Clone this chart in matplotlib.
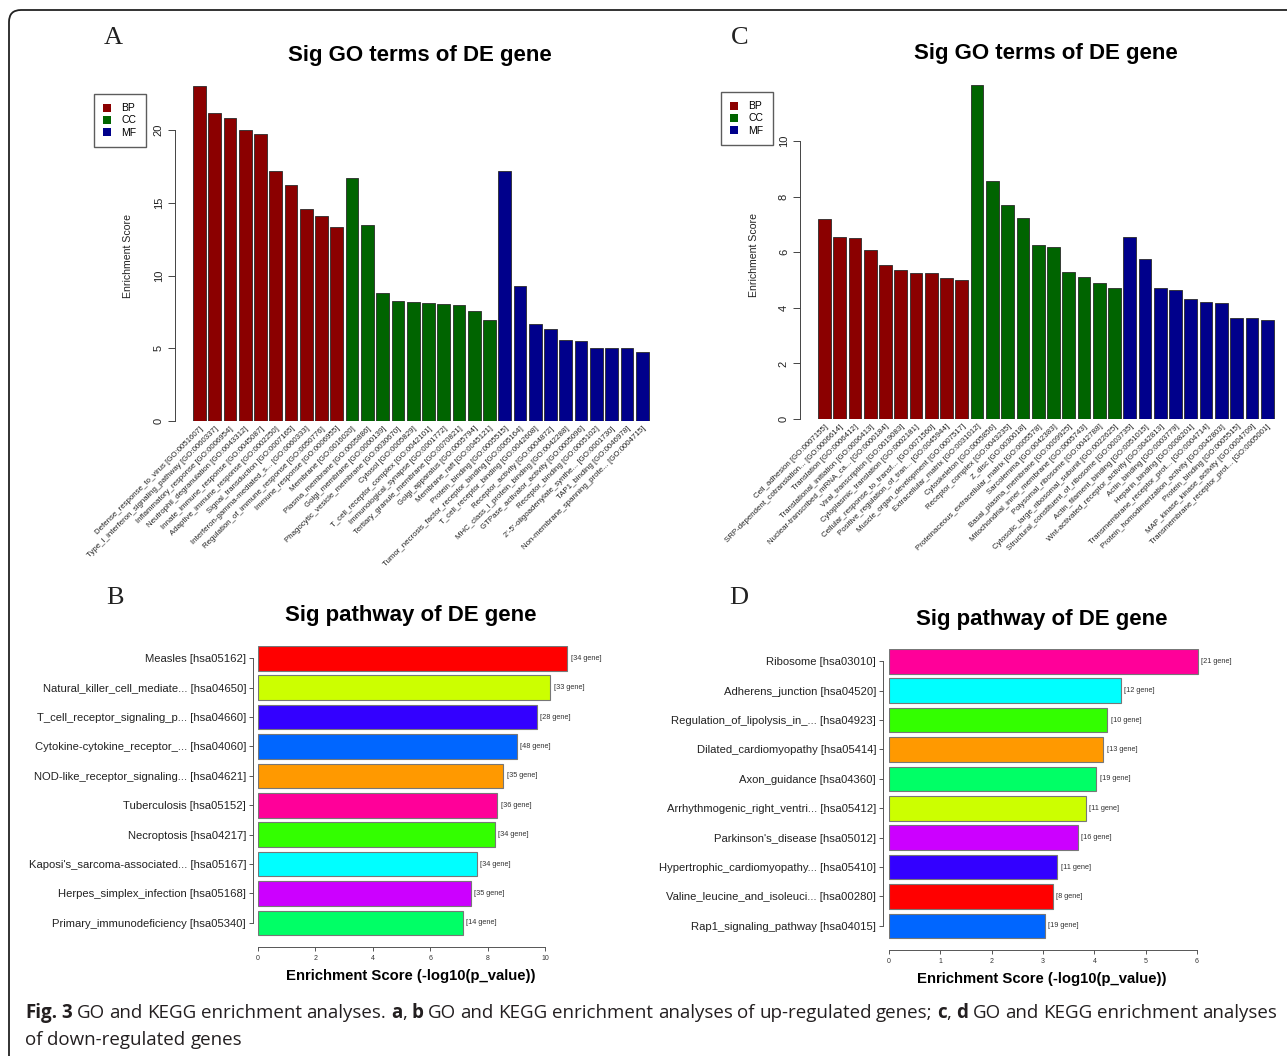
import re
import numpy as np
import matplotlib
matplotlib.use('Agg')
import matplotlib.pyplot as plt
from matplotlib.patches import Patch, FancyBboxPatch
from matplotlib.transforms import IdentityTransform

W, H = 1287, 1056

##########
## DATA ##
##########

go_classes = ['BP', 'CC', 'MF']
go_colors = {'BP': '#8B0000', 'CC': '#006400', 'MF': '#00008B'}

# A : GO terms of up-regulated genes
goA_terms = [
    'Defense_response_to_virus [GO:0051607]',
    'Type_I_interferon_signaling_pathway [GO:0060337]',
    'Inflammatory_response [GO:0006954]',
    'Neutrophil_degranulation [GO:0043312]',
    'Innate_immune_response [GO:0045087]',
    'Adaptive_immune_response [GO:0002250]',
    'Signal_transduction [GO:0007165]',
    'Interferon-gamma-mediated_s... [GO:0060333]',
    'Regulation_of_immune_response [GO:0050776]',
    'Immune_response [GO:0006955]',
    'Membrane [GO:0016020]',
    'Plasma_membrane [GO:0005886]',
    'Golgi_membrane [GO:0000139]',
    'Phagocytic_vesicle_membrane [GO:0030670]',
    'Cytosol [GO:0005829]',
    'T_cell_receptor_complex [GO:0042101]',
    'Immunological_synapse [GO:0001772]',
    'Tertiary_granule_membrane [GO:0070821]',
    'Golgi_apparatus [GO:0005794]',
    'Membrane_raft [GO:0045121]',
    'Protein_binding [GO:0005515]',
    'Tumor_necrosis_factor_receptor_binding [GO:0005164]',
    'T_cell_receptor_binding [GO:0042608]',
    'Receptor_activity [GO:0004872]',
    'MHC_class_I_protein_binding [GO:0042288]',
    'GTPase_activator_activity [GO:0005096]',
    'Receptor_binding [GO:0005102]',
    "2'-5'-oligoadenylate_synthe... [GO:0001730]",
    'TAP1_binding [GO:0046978]',
    'Non-membrane_spanning_prote... [GO:0004715]',
]
goA_scores = [23.0, 21.2, 20.8, 20.0, 19.7, 17.2, 16.2, 14.6, 14.1, 13.3,
              16.7, 13.5, 8.8, 8.25, 8.2, 8.1, 8.05, 8.0, 7.55, 6.95,
              17.2, 9.3, 6.7, 6.3, 5.55, 5.5, 5.0, 5.0, 5.0, 4.75]
goA_class = ['BP'] * 10 + ['CC'] * 10 + ['MF'] * 10

# C : GO terms of down-regulated genes
goC_terms = [
    'Cell_adhesion [GO:0007155]',
    'SRP-dependent_cotranslation... [GO:0006614]',
    'Translation [GO:0006412]',
    'Translational_initiation [GO:0006413]',
    'Nuclear-transcribed_mRNA_ca... [GO:0000184]',
    'Viral_transcription [GO:0019083]',
    'Cytoplasmic_translation [GO:0002181]',
    'Cellular_response_to_transf... [GO:0071560]',
    'Positive_regulation_of_tran... [GO:0045944]',
    'Muscle_organ_development [GO:0007517]',
    'Extracellular_matrix [GO:0031012]',
    'Cytoskeleton [GO:0005856]',
    'Receptor_complex [GO:0043235]',
    'Z_disc [GO:0030018]',
    'Proteinaceous_extracellular_matrix [GO:0005578]',
    'Sarcolemma [GO:0042383]',
    'Basal_plasma_membrane [GO:0009925]',
    'Mitochondrial_inner_membrane [GO:0005743]',
    'Polysomal_ribosome [GO:0042788]',
    'Cytosolic_large_ribosomal_subunit [GO:0022625]',
    'Structural_constituent_of_ribosome [GO:0003735]',
    'Actin_filament_binding [GO:0051015]',
    'Wnt-activated_receptor_activity [GO:0042813]',
    'Actin_binding [GO:0003779]',
    'Heparin_binding [GO:0008201]',
    'Transmembrane_receptor_prot... [GO:0004714]',
    'Protein_homodimerization_activity [GO:0042803]',
    'Protein_binding [GO:0005515]',
    'MAP_kinase_kinase_activity [GO:0004709]',
    'Transmembrane_receptor_prot... [GO:0005001]',
]
goC_scores = [7.2, 6.55, 6.5, 6.08, 5.54, 5.36, 5.25, 5.25, 5.07, 5.0,
              12.0, 8.56, 7.7, 7.23, 6.26, 6.19, 5.29, 5.1, 4.89, 4.71,
              6.55, 5.75, 4.71, 4.64, 4.32, 4.21, 4.17, 3.63, 3.63, 3.56]
goC_class = ['BP'] * 10 + ['CC'] * 10 + ['MF'] * 10

# B : KEGG pathways of up-regulated genes
keggB_names = ['Measles [hsa05162]', 'Natural_killer_cell_mediate... [hsa04650]',
               'T_cell_receptor_signaling_p... [hsa04660]', 'Cytokine-cytokine_receptor_... [hsa04060]',
               'NOD-like_receptor_signaling... [hsa04621]', 'Tuberculosis [hsa05152]',
               'Necroptosis [hsa04217]', "Kaposi's_sarcoma-associated... [hsa05167]",
               'Herpes_simplex_infection [hsa05168]', 'Primary_immunodeficiency [hsa05340]']
keggB_scores = [10.77, 10.18, 9.72, 9.01, 8.54, 8.34, 8.25, 7.63, 7.41, 7.14]
keggB_genes = [34, 33, 28, 48, 35, 36, 34, 34, 35, 14]
keggB_colors = ['#FF0000', '#CCFF00', '#3300FF', '#0066FF', '#FF9900',
                '#FF0099', '#33FF00', '#00FFFF', '#CC00FF', '#00FF66']

# D : KEGG pathways of down-regulated genes
keggD_names = ['Ribosome [hsa03010]', 'Adherens_junction [hsa04520]',
               'Regulation_of_lipolysis_in_... [hsa04923]', 'Dilated_cardiomyopathy [hsa05414]',
               'Axon_guidance [hsa04360]', 'Arrhythmogenic_right_ventri... [hsa05412]',
               "Parkinson's_disease [hsa05012]", 'Hypertrophic_cardiomyopathy... [hsa05410]',
               'Valine_leucine_and_isoleuci... [hsa00280]', 'Rap1_signaling_pathway [hsa04015]']
keggD_scores = [6.02, 4.52, 4.25, 4.17, 4.04, 3.83, 3.68, 3.28, 3.19, 3.03]
keggD_genes = [21, 12, 10, 13, 19, 11, 16, 11, 8, 19]
keggD_colors = ['#FF0099', '#00FFFF', '#33FF00', '#FF9900', '#00FF66',
                '#CCFF00', '#CC00FF', '#3300FF', '#FF0000', '#0066FF']

caption_1 = ('*Fig.* *3* GO and KEGG enrichment analyses. *a*, *b* GO and KEGG enrichment '
             'analyses of up-regulated genes; *c*, *d* GO and KEGG enrichment analyses')
caption_2 = 'of down-regulated genes'

##############
## HELPERS  ##
##############

plt.rcParams['font.family'] = ['Liberation Sans', 'DejaVu Sans']

fig = plt.figure(figsize=(W / 100, H / 100), dpi=100)
fig.patch.set_facecolor('white')


def px_axes(l, t, r, b):
    return fig.add_axes([l / W, 1 - b / H, (r - l) / W, (b - t) / H])


def ftext(x, y, s, **kw):
    return fig.text(x / W, 1 - y / H, s, **kw)


def go_panel(ax, terms, scores, classes, ytop, yticks):
    x = 0.7 + 1.2 * np.arange(len(terms))
    cols = [go_colors[c] for c in classes]
    ax.bar(x, scores, width=1, color=cols, edgecolor='#2a2a2a', linewidth=0.6)
    ax.set_xlim(-1.22, 36.9)
    ax.set_ylim(0, ytop)
    for s in ['top', 'right', 'bottom']:
        ax.spines[s].set_visible(False)
    ax.spines['left'].set_bounds(yticks[0], yticks[-1])
    ax.spines['left'].set_color('#444444')
    ax.spines['left'].set_linewidth(0.7)
    ax.set_yticks(yticks)
    ax.tick_params(axis='y', length=5, width=0.7, color='#444444', labelsize=8,
                   pad=3, labelrotation=90, labelcolor='#222222')
    ax.set_xticks(x)
    ax.set_xticklabels(terms, rotation=45, ha='right', rotation_mode='anchor',
                       fontsize=5.7, color='#222222')
    ax.tick_params(axis='x', length=0, pad=3)
    for lab in ax.get_yticklabels():
        lab.set_va('center')
    handles = [Patch(facecolor=go_colors[c], edgecolor='none', label=c) for c in go_classes]
    return handles


def go_legend(ax, handles, x, y):
    ax.legend(handles=handles, loc='upper left', bbox_to_anchor=(x / W, 1 - y / H),
              bbox_transform=fig.transFigure, fontsize=7.5, frameon=True, fancybox=False,
              edgecolor='#333333', handlelength=0.75, handleheight=0.75, handletextpad=1.0,
              labelspacing=0.2, borderpad=0.9, borderaxespad=0)


def kegg_panel(ax, names, scores, genes, colors, xmax, xticks, loff, boff):
    y = 0.7 + 1.2 * np.arange(len(names))[::-1]
    ax.barh(y, scores, height=1, color=colors, edgecolor='#777777', linewidth=0.8)
    for yy, sc, g in zip(y, scores, genes):
        ax.annotate('[%d gene]' % g, (sc, yy), xytext=(2.5, 0), textcoords='offset points',
                    va='center', ha='left', fontsize=5.3, color='#333333')
    ax.set_xlim(0, xmax)
    ax.set_ylim(0, 12)
    for s in ['top', 'right']:
        ax.spines[s].set_visible(False)
    ax.spines['left'].set_position(('outward', loff))
    ax.spines['left'].set_bounds(y.min(), y.max())
    ax.spines['bottom'].set_position(('outward', boff))
    ax.spines['bottom'].set_bounds(xticks[0], xticks[-1])
    for s in ['left', 'bottom']:
        ax.spines[s].set_color('#555555')
        ax.spines[s].set_linewidth(0.7)
    ax.set_yticks(y)
    ax.set_yticklabels(names, fontsize=8.1, color='#222222')
    ax.set_xticks(xticks)
    ax.tick_params(axis='y', length=3, width=0.7, color='#555555', pad=2)
    ax.tick_params(axis='x', length=3, width=0.7, color='#555555', pad=3,
                   labelsize=5, labelcolor='#333333')


def caption_line(y, text, x0, x1=None, size=13.5):
    rend = fig.canvas.get_renderer()
    words = []
    for w in text.split(' '):
        parts = [p for p in re.split(r'(\*[^*]+\*)', w) if p]
        arts = []
        for p in parts:
            bold = p.startswith('*')
            arts.append(ftext(0, y, p.strip('*'), fontsize=size, family='Open Sans',
                              fontweight='bold' if bold else 'normal',
                              color='#231f20', va='center', ha='left'))
        words.append(arts)
    widths = [[a.get_window_extent(rend).width for a in arts] for arts in words]
    total = sum(sum(w) for w in widths)
    if x1 is None:
        sp_art = ftext(0, y, 'a a', fontsize=size, family='Open Sans')
        sp_a = ftext(0, y, 'aa', fontsize=size, family='Open Sans')
        sp = sp_art.get_window_extent(rend).width - sp_a.get_window_extent(rend).width
        sp_art.remove()
        sp_a.remove()
    else:
        sp = (x1 - x0 - total) / (len(words) - 1)
    x = x0
    for arts, ws in zip(words, widths):
        for a, w in zip(arts, ws):
            a.set_x(x / W)
            x += w
        x += sp


############
## PANELS ##
############

# A
axA = px_axes(175, 78, 660, 421)
hA = go_panel(axA, goA_terms, goA_scores, goA_class, (421 - 78) / 14.55, [0, 5, 10, 15, 20])
ftext(420, 55, 'Sig GO terms of DE gene', fontsize=16, fontweight='bold', ha='center', va='center')
ftext(128, 256, 'Enrichment Score', fontsize=7.6, rotation=90, ha='center', va='center', color='#222222')
go_legend(axA, hA, 94, 94)

# C
axC = px_axes(800, 78, 1285, 419)
hC = go_panel(axC, goC_terms, goC_scores, goC_class, (419 - 78) / 27.8, [0, 2, 4, 6, 8, 10])
ftext(1046, 53, 'Sig GO terms of DE gene', fontsize=16, fontweight='bold', ha='center', va='center')
ftext(754, 255, 'Enrichment Score', fontsize=7.6, rotation=90, ha='center', va='center', color='#222222')
go_legend(axC, hC, 721, 92)

# B
axB = px_axes(258, 646, 620, 940)
kegg_panel(axB, keggB_names, keggB_scores, keggB_genes, keggB_colors,
           (620 - 258) / 28.7, [0, 2, 4, 6, 8, 10], 3.6, 5)
ftext(411, 616, 'Sig pathway of DE gene', fontsize=16, fontweight='bold', ha='center', va='center')
ftext(411, 976, 'Enrichment Score (-log10(p_value))', fontsize=10.7, fontweight='bold',
      ha='center', va='center')

# D
axD = px_axes(889, 649, 1280, 943)
kegg_panel(axD, keggD_names, keggD_scores, keggD_genes, keggD_colors,
           (1280 - 889) / 51.33, [0, 1, 2, 3, 4, 5, 6], 4.3, 5)
ftext(1042, 619, 'Sig pathway of DE gene', fontsize=16, fontweight='bold', ha='center', va='center')
ftext(1042, 979, 'Enrichment Score (-log10(p_value))', fontsize=10.7, fontweight='bold',
      ha='center', va='center')

# panel letters
for lx, ly, letter in [(113, 38, 'A'), (740, 38, 'C'), (115, 598, 'B'), (739, 598, 'D')]:
    ftext(lx, ly, letter, fontsize=19, family='Liberation Serif', ha='center', va='center',
          color='#222222')

# frame round the figure
frame = FancyBboxPatch((9, -40), 1330, 1086, boxstyle='round,pad=0,rounding_size=12',
                       transform=IdentityTransform(), fill=False, lw=1.3, ec='#222222')
fig.add_artist(frame)

# caption
caption_line(1013, caption_1, 25, 1277)
caption_line(1040, caption_2, 25)

fig.savefig('out.png', dpi=100, facecolor='white')
